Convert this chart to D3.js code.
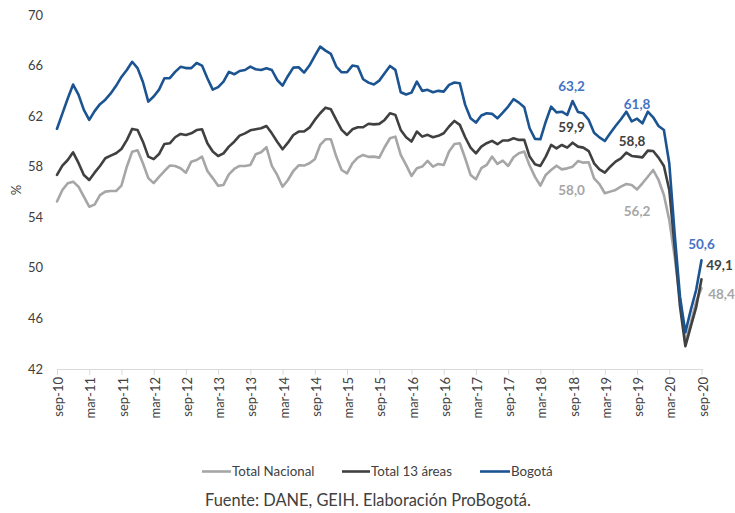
<!DOCTYPE html>
<html><head><meta charset="utf-8">
<script src="https://cdn.jsdelivr.net/npm/d3@7"></script>
<style>
body{margin:0;background:#fff}
svg{display:block}
text{font-family:Lato,"Open Sans",sans-serif}
</style>
</head><body>
<svg id="c" width="735" height="513"></svg>
<script>
// ---- DATA ----
const monthAbbr = ["ene","feb","mar","abr","may","jun","jul","ago","sep","oct","nov","dic"];
const categories = [];
for (let k = 0; k <= 120; k++) {
  const m = (8 + k) % 12, yy = 10 + Math.floor((8 + k) / 12);
  categories.push(monthAbbr[m] + "-" + yy);
}
const tickLabels = ["sep-10","mar-11","sep-11","mar-12","sep-12","mar-13","sep-13","mar-14","sep-14","mar-15","sep-15","mar-16","sep-16","mar-17","sep-17","mar-18","sep-18","mar-19","sep-19","mar-20","sep-20"];
const yTicks = [42,46,50,54,58,62,66,70];

const totalNacional = [55.25,56.16,56.69,56.82,56.42,55.63,54.84,55.0,55.76,56.03,56.08,56.08,56.5,58.0,59.19,59.3,58.27,57.1,56.7,57.2,
57.66,58.09,58.06,57.88,57.53,58.4,58.53,58.8,57.66,57.1,56.5,56.56,57.4,57.82,58.06,58.06,58.14,58.98,59.14,59.54,
58.06,57.35,56.42,56.95,57.66,58.11,58.09,58.27,58.59,59.72,60.17,60.17,58.8,57.74,57.48,58.27,58.72,58.93,58.78,58.8,
58.72,59.54,60.25,60.38,58.93,58.14,57.27,57.88,58.01,58.46,58.01,58.22,58.14,59.2,59.8,59.86,58.67,57.35,57.01,57.88,
58.14,58.8,58.22,58.48,58.06,58.75,59.07,59.2,58.1,57.2,56.5,57.35,57.74,58.08,57.79,57.87,58.0,58.45,58.32,58.35,
57.08,56.63,55.9,56.03,56.16,56.42,56.63,56.55,56.2,56.69,57.21,57.74,56.95,55.76,53.78,50.88,47.45,44.1,45.61,47.32,48.4];

const total13 = [57.35,58.09,58.53,59.14,58.3,57.35,56.95,57.53,58.06,58.67,58.88,59.06,59.4,60.1,60.99,60.9,59.98,58.8,58.6,59.0,
59.8,59.85,60.33,60.59,60.51,60.64,60.9,60.96,59.85,59.2,58.85,59.06,59.59,59.98,60.46,60.64,60.88,60.96,61.04,61.22,
60.64,59.98,59.38,59.9,60.51,60.78,60.78,61.09,61.7,62.23,62.67,62.54,61.7,60.91,60.51,60.96,61.12,61.12,61.4,61.35,
61.39,61.7,62.23,62.1,60.91,60.33,59.99,60.78,60.38,60.52,60.33,60.44,60.65,61.18,61.62,61.31,60.33,59.51,59.06,59.59,
59.86,60.04,59.78,60.07,60.07,60.25,60.12,60.12,58.8,58.2,58.06,58.8,59.72,59.45,59.72,59.51,59.9,59.59,59.51,59.24,
58.27,57.79,57.53,58.0,58.4,58.66,59.11,58.85,58.8,58.74,59.27,59.24,58.72,58.06,56.16,51.67,46.93,43.8,45.35,46.87,49.1];

const bogota = [61.0,62.2,63.4,64.5,63.7,62.5,61.7,62.4,62.95,63.3,63.8,64.4,65.1,65.65,66.3,65.8,64.7,63.15,63.55,64.1,
65.0,65.0,65.5,65.9,65.8,65.8,66.2,66.0,65.0,64.1,64.3,64.73,65.5,65.31,65.57,65.65,65.92,65.71,65.65,65.79,
65.65,64.86,64.41,65.18,65.84,65.87,65.44,66.0,66.76,67.5,67.18,66.92,65.92,65.47,65.47,66.0,65.92,64.92,64.65,64.5,
64.81,65.39,65.97,65.66,63.89,63.71,63.86,64.73,64.0,64.08,63.89,64.0,63.94,64.47,64.66,64.6,62.89,61.83,61.49,62.05,
62.23,62.18,61.83,62.28,62.76,63.34,63.07,62.7,61.04,60.2,60.17,61.56,62.75,62.3,62.35,62.09,63.2,62.33,62.22,61.7,
60.69,60.32,60.03,60.64,61.22,61.75,62.35,61.59,61.8,61.43,62.35,61.91,61.22,60.9,58.27,52.7,47.7,44.9,46.66,48.25,50.6];

const seriesNames = ["Total Nacional","Total 13 áreas","Bogotá"];
const labelMonths = ["sep-18","sep-19","sep-20"];
const sourceText = "Fuente: DANE, GEIH. Elaboración ProBogotá.";

// ---- STYLE ----
const lineColors = ["#A6A6A6","#404040","#1B5491"];
const labelColors = ["#A6A6A6","#404040","#4472C4"];
// label offsets [dx,dy] per series per labelled month
const labelOffsets = [
  [[-1,24],[0,22],[20,6]],
  [[-1,-15],[-5,-15],[18,-14]],
  [[-1,-15],[0,-14],[0,-16]]
];

const svg = d3.select("#c");
const x = d3.scalePoint().domain(categories).range([57, 701.5]);
const y = d3.scaleLinear().domain([42,70]).range([369, 15]);

// y tick labels
svg.append("g").selectAll("text").data(yTicks).join("text")
  .attr("x", 43).attr("y", d => y(d)).attr("dy","0.35em")
  .attr("text-anchor","end").attr("font-size",13).attr("fill","#404040")
  .text(d => d);

svg.append("text").attr("transform","translate(16,190) rotate(-90)")
  .attr("text-anchor","middle").attr("dy","0.35em").attr("font-size",13).attr("fill","#404040").text("%");

// x axis
const xAxis = d3.axisBottom(x).tickValues(tickLabels).tickSize(6).tickPadding(4);
const gx = svg.append("g").attr("transform","translate(0,369)").call(xAxis);
gx.select(".domain").attr("stroke","#D9D9D9").attr("d","M57,0.5H703");
gx.selectAll(".tick line").attr("stroke","#D9D9D9");
gx.selectAll(".tick text")
  .attr("font-family","Lato,'Open Sans',sans-serif").attr("font-size",13).attr("fill","#404040")
  .attr("text-anchor","end").attr("transform","rotate(-90)")
  .attr("x",-8).attr("y",1).attr("dy","0.35em");

// lines
const all = [totalNacional, total13, bogota];
const line = d3.line().x((d,i) => x(categories[i])).y(d => y(d));
svg.append("g").selectAll("path").data(all).join("path")
  .attr("d", line).attr("fill","none")
  .attr("stroke",(d,i)=>lineColors[i]).attr("stroke-width",2.6)
  .attr("stroke-linejoin","round").attr("stroke-linecap","round");

// data labels
all.forEach((s, si) => {
  labelMonths.forEach((m, li) => {
    const idx = categories.indexOf(m);
    const [dx, dy] = labelOffsets[si][li];
    svg.append("text")
      .attr("x", x(m) + dx).attr("y", y(s[idx]) + dy).attr("dy","0.35em")
      .attr("text-anchor","middle").attr("font-size",13.5).attr("font-weight","bold")
      .attr("fill", labelColors[si])
      .text(s[idx].toFixed(1).replace(".", ","));
  });
});

// legend
const legendX = [[202,232],[342,371],[480,511]];
const lg = svg.append("g");
seriesNames.forEach((n,i) => {
  lg.append("line").attr("x1",legendX[i][0]).attr("x2",legendX[i][1]-1)
    .attr("y1",471.5).attr("y2",471.5).attr("stroke",lineColors[i]).attr("stroke-width",2.6);
  lg.append("text").attr("x",legendX[i][1]).attr("y",471.5).attr("dy","0.35em")
    .attr("font-size",13.3).attr("fill","#404040").text(n);
});

svg.append("text").attr("x",205).attr("y",500).attr("dy","0.35em")
  .attr("font-size",16.4).attr("fill","#404040").text(sourceText);
</script>
</body></html>
